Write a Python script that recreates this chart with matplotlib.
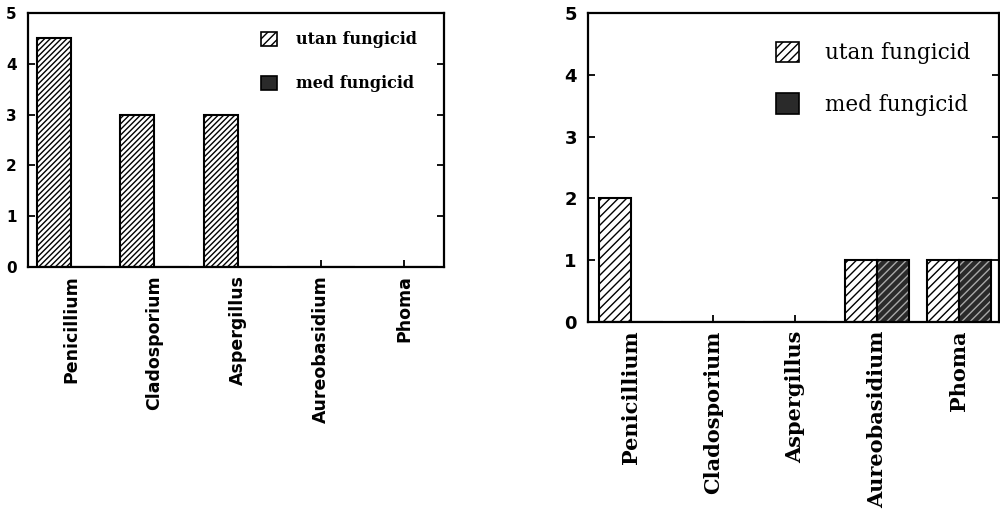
import numpy as np
import matplotlib
matplotlib.use("Agg")
import matplotlib.pyplot as plt
from matplotlib.patches import Patch

# Data
kategorier = ["Penicillium", "Cladosporium", "Aspergillus", "Aureobasidium", "Phoma"]
vanster_utan = [4.5, 3, 3, 0, 0]
vanster_med = [0, 0, 0, 0, 0]
hoger_utan = [2, 0, 0, 1, 1]
hoger_med = [0, 0, 0, 1, 1]
serie_namn = ["utan fungicid", "med fungicid"]

plt.rcParams["hatch.linewidth"] = 1.0

fig = plt.figure(figsize=(10, 5.16), dpi=100)
ax1 = fig.add_axes([0.028, 0.4826, 0.416, 0.4922])
ax2 = fig.add_axes([0.588, 0.376, 0.4105, 0.5988])


def rita(ax, utan, med, bredd, skraff, lab_font, lab_size, tick_size, leg_size, leg_bbox,
         leg_space, leg_weight, handle):
    x = np.arange(len(kategorier))
    # utan fungicid: vit med diagonal skraffering
    ax.bar(x, utan, width=-bredd, align="edge", color="white", edgecolor="black",
           hatch=skraff, linewidth=1.5)
    # med fungicid: mörk med ljus skraffering
    ax.bar(x, med, width=bredd, align="edge", color="#2a2a2a", edgecolor="#a8a8a8",
           hatch="////", linewidth=0)
    ax.bar(x, med, width=bredd, align="edge", fill=False, edgecolor="black", linewidth=1.5)

    ax.set_xlim(-0.52, 4.48)
    ax.set_ylim(0, 5)
    ax.set_yticks(range(6))
    ax.set_xticks(x)
    ax.set_xticklabels(kategorier, rotation=90, fontfamily=lab_font, fontweight="bold",
                       fontsize=lab_size)
    for lbl in ax.get_yticklabels():
        lbl.set_fontfamily("DejaVu Sans")
        lbl.set_fontweight("bold")
        lbl.set_fontsize(tick_size)
    ax.tick_params(axis="both", direction="in", length=5, width=1.3)
    ax.tick_params(axis="y", right=True, pad=8)
    ax.tick_params(axis="x", pad=6)
    for s in ax.spines.values():
        s.set_linewidth(1.6)

    handtag = [Patch(facecolor="white", edgecolor="black", hatch="////", linewidth=1.2),
               Patch(facecolor="#2a2a2a", edgecolor="black", linewidth=1.2)]
    ax.legend(handtag, serie_namn, loc="upper left", bbox_to_anchor=leg_bbox, frameon=False,
              handlelength=handle, handleheight=handle, handletextpad=1.2,
              labelspacing=leg_space,
              prop={"family": "DejaVu Serif", "weight": leg_weight, "size": leg_size})


rita(ax1, vanster_utan, vanster_med, 0.41, "//////", "DejaVu Sans", 12.5, 11, 11.5,
     (0.525, 0.985), 1.7, "bold", 1.0)
rita(ax2, hoger_utan, hoger_med, 0.39, "////", "DejaVu Serif", 15, 13, 15.5,
     (0.41, 0.97), 1.35, "normal", 1.1)

fig.savefig("out.png", dpi=100)
